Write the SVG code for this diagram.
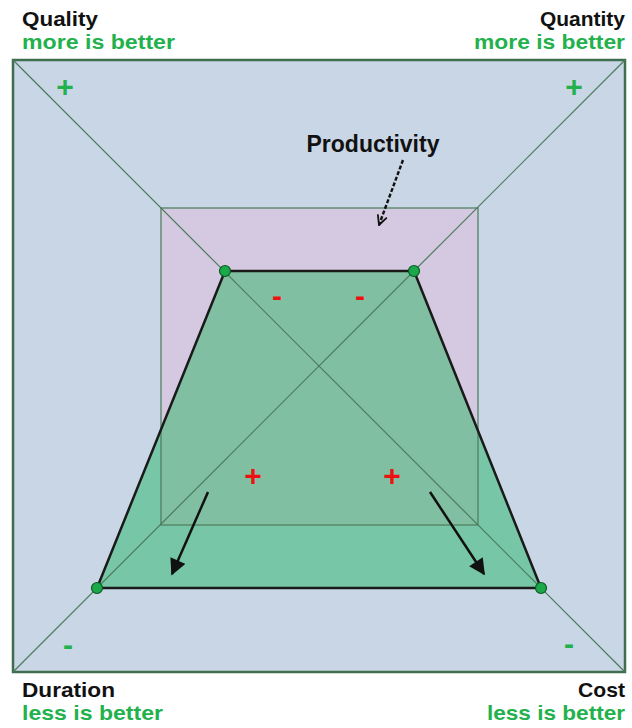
<svg xmlns="http://www.w3.org/2000/svg" width="632" height="728" viewBox="0 0 632 728">
<style>
.lbl{font-family:"Liberation Sans",Arial,sans-serif;font-weight:bold;font-size:21px;fill:#111}
.sub{font-family:"Liberation Sans",Arial,sans-serif;font-weight:bold;font-size:21px;fill:#22b14c}
.sign{font-family:"Liberation Sans",Arial,sans-serif;font-weight:bold;font-size:30px;text-anchor:middle}
.g{fill:#22b14c}
.r{fill:#ee1111}
.diag{stroke:#4b7a5c;stroke-width:1.2;fill:none}
.dot{fill:#1aa84a;stroke:#0b5a22;stroke-width:1.2}
</style>
<defs>
<clipPath id="trapClip"><polygon points="225,271 414,271 541,588 97,588"/></clipPath>
<marker id="solidHead" viewBox="0 0 10 10" refX="9" refY="5" markerWidth="7" markerHeight="6.5" orient="auto" markerUnits="strokeWidth">
<path d="M0,0 L10,5 L0,10 z" fill="#111"/>
</marker>
<marker id="openHead" viewBox="0 0 10 10" refX="9" refY="5" markerWidth="5" markerHeight="5" orient="auto" markerUnits="strokeWidth">
<path d="M1,1 L9,5 L1,9" fill="none" stroke="#111" stroke-width="1.5"/>
</marker>
</defs>

<g id="background">
<rect x="13" y="60" width="612" height="612" fill="#c9d6e6" stroke="#3f6e4f" stroke-width="2.5"/>
<rect x="161" y="208" width="317" height="317" fill="#d4c9e0"/>
<polygon points="225,271 414,271 541,588 97,588" fill="#76c6a7"/>
<rect x="161" y="208" width="317" height="317" fill="#80bfa2" clip-path="url(#trapClip)"/>
<rect x="161" y="208" width="317" height="317" fill="none" stroke="#4f7f5f" stroke-opacity="0.85" stroke-width="1.5"/>
<line class="diag" x1="13" y1="60" x2="625" y2="672"/>
<line class="diag" x1="625" y1="60" x2="13" y2="672"/>
<polygon points="225,271 414,271 541,588 97,588" fill="none" stroke="#1a1a1a" stroke-width="2.5" stroke-linejoin="round"/>
</g>

<g id="connectors">
<line x1="403" y1="160" x2="379" y2="225" stroke="#111" stroke-width="2.4" stroke-dasharray="4,2" marker-end="url(#openHead)"/>
<line x1="208" y1="492" x2="172" y2="574" stroke="#111" stroke-width="2.5" marker-end="url(#solidHead)"/>
<line x1="430" y1="492" x2="484" y2="574" stroke="#111" stroke-width="2.5" marker-end="url(#solidHead)"/>
</g>

<g id="dot-top-left"><circle class="dot" cx="225" cy="271" r="5.5"/></g>
<g id="dot-top-right"><circle class="dot" cx="414" cy="271" r="5.5"/></g>
<g id="dot-bottom-left"><circle class="dot" cx="97" cy="588" r="5.5"/></g>
<g id="dot-bottom-right"><circle class="dot" cx="541" cy="588" r="5.5"/></g>

<g id="quality">
<text class="lbl" x="22" y="26" textLength="76" lengthAdjust="spacingAndGlyphs">Quality</text>
<text class="sub" x="22" y="49" textLength="153" lengthAdjust="spacingAndGlyphs">more is better</text>
</g>
<g id="quantity">
<text class="lbl" x="625" y="26" text-anchor="end" textLength="85" lengthAdjust="spacingAndGlyphs">Quantity</text>
<text class="sub" x="625" y="49" text-anchor="end" textLength="151" lengthAdjust="spacingAndGlyphs">more is better</text>
</g>
<g id="duration">
<text class="lbl" x="22" y="697" textLength="93" lengthAdjust="spacingAndGlyphs">Duration</text>
<text class="sub" x="22" y="720" textLength="141" lengthAdjust="spacingAndGlyphs">less is better</text>
</g>
<g id="cost">
<text class="lbl" x="625" y="697" text-anchor="end" textLength="47" lengthAdjust="spacingAndGlyphs">Cost</text>
<text class="sub" x="625" y="720" text-anchor="end" textLength="138" lengthAdjust="spacingAndGlyphs">less is better</text>
</g>
<g id="productivity">
<text class="lbl" x="373" y="152" text-anchor="middle" style="font-size:23px">Productivity</text>
</g>

<g id="signs">
<text class="sign g" x="65" y="97">+</text>
<text class="sign g" x="574" y="97">+</text>
<text class="sign g" x="68" y="655">-</text>
<text class="sign g" x="569" y="654">-</text>
<text class="sign r" x="277" y="306">-</text>
<text class="sign r" x="360" y="306">-</text>
<text class="sign r" x="253" y="486">+</text>
<text class="sign r" x="392" y="486">+</text>
</g>
</svg>
